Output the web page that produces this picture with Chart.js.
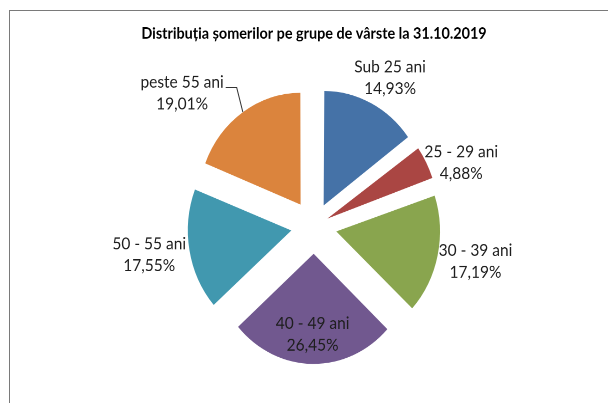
<!DOCTYPE html>
<html><head><meta charset="utf-8">
<script src="https://cdn.jsdelivr.net/npm/chart.js@4"></script>
<style>
html,body{margin:0;padding:0;width:608px;height:403px;overflow:hidden;background:#fff;}
#frame{position:absolute;left:9px;top:10px;width:640px;height:440px;border-top:1px solid #7a7a7a;border-left:1px solid #7a7a7a;}
#wrap{position:absolute;left:0;top:0;width:608px;height:376px;transform:scaleY(1.089);transform-origin:0 0;}
</style></head>
<body>
<div id="frame"></div>
<div id="wrap"><canvas id="c" width="608" height="376"></canvas></div>
<script>
// ---- data ----
const chartTitle = 'Distribuția șomerilor pe grupe de vârste la 31.10.2019';
const categories = ['Sub 25 ani', '25 - 29 ani', '30 - 39 ani', '40 - 49 ani', '50 - 55 ani', 'peste 55 ani'];
const values = [14.93, 4.88, 17.19, 26.45, 17.55, 19.01];

// ---- style ----
const colors = ['#4572A7', '#AA4643', '#89A54E', '#71588F', '#4198AF', '#DB843D'];
const labelInside = [false, false, false, true, false, false];
const labelNudge = [[0, 0], [-3, 12], [-4, 0], [0, 0], [2, 0], [-34, 4]];
const EXPLODE = 25.5;
const RADIUS = 101;
const FONT = '"Lato", "Liberation Sans", sans-serif';
const total = values.reduce((a, b) => a + b, 0);
const fmt = v => v.toFixed(2).replace('.', ',') + '%';

const labelPlugin = {
  id: 'sliceLabels',
  afterDatasetsDraw(chart) {
    const ctx = chart.ctx;
    const meta = chart.getDatasetMeta(0);
    ctx.save();
    ctx.font = '15.5px ' + FONT;
    ctx.fillStyle = '#1e1e1e';
    ctx.textAlign = 'center';
    ctx.textBaseline = 'middle';
    const LH = 20;
    meta.data.forEach((arc, i) => {
      const p = arc.getProps(['x', 'y', 'startAngle', 'endAngle', 'outerRadius'], true);
      const mid = (p.startAngle + p.endAngle) / 2;
      const dx = Math.cos(mid), dy = Math.sin(mid);
      const cx = p.x + dx * EXPLODE, cy = p.y + dy * EXPLODE;
      const lines = [categories[i], fmt(values[i])];
      const w = Math.max(...lines.map(l => ctx.measureText(l).width));
      const h = 2 * LH;
      let bx, by;
      if (labelInside[i]) {
        bx = cx + dx * p.outerRadius * 0.73;
        by = cy + dy * p.outerRadius * 0.73;
      } else {
        const ax = cx + dx * (p.outerRadius + 6);
        const ay = cy + dy * (p.outerRadius + 6);
        bx = ax + dx * w / 2;
        by = ay + dy * h / 2;
      }
      bx += labelNudge[i][0];
      by += labelNudge[i][1];
      ctx.fillText(lines[0], bx, by - LH / 2);
      ctx.fillText(lines[1], bx, by + LH / 2);
      if (Math.abs(labelNudge[i][0]) > 20) {
        const w0 = ctx.measureText(lines[0]).width;
        const lx = bx + w0 / 2 + 2, ly = by - LH / 2 + 5;
        ctx.beginPath();
        ctx.strokeStyle = '#333';
        ctx.lineWidth = 1;
        ctx.moveTo(lx, ly);
        ctx.lineTo(lx + 11, ly);
        ctx.lineTo(cx + dx * p.outerRadius, cy + dy * p.outerRadius);
        ctx.stroke();
      }
    });
    ctx.restore();
  }
};

new Chart(document.getElementById('c'), {
  type: 'pie',
  data: {
    labels: categories,
    datasets: [{
      data: values,
      backgroundColor: colors,
      borderWidth: 0,
      offset: (c) => {
        const circ = values[c.dataIndex] / total * 2 * Math.PI;
        return 4 * EXPLODE / (2 - Math.sin(Math.min(Math.PI, circ)));
      }
    }]
  },
  options: {
    responsive: false,
    devicePixelRatio: 2,
    animation: false,
    radius: RADIUS,
    layout: { padding: { left: 20, right: 0, top: 0, bottom: 0 } },
    plugins: {
      legend: { display: false },
      tooltip: { enabled: false },
      title: {
        display: true,
        text: chartTitle,
        color: '#000',
        font: { family: FONT, size: 14.4, weight: 'bold' },
        padding: { top: 22, bottom: 0 }
      }
    }
  },
  plugins: [labelPlugin]
});
</script>
</body></html>
